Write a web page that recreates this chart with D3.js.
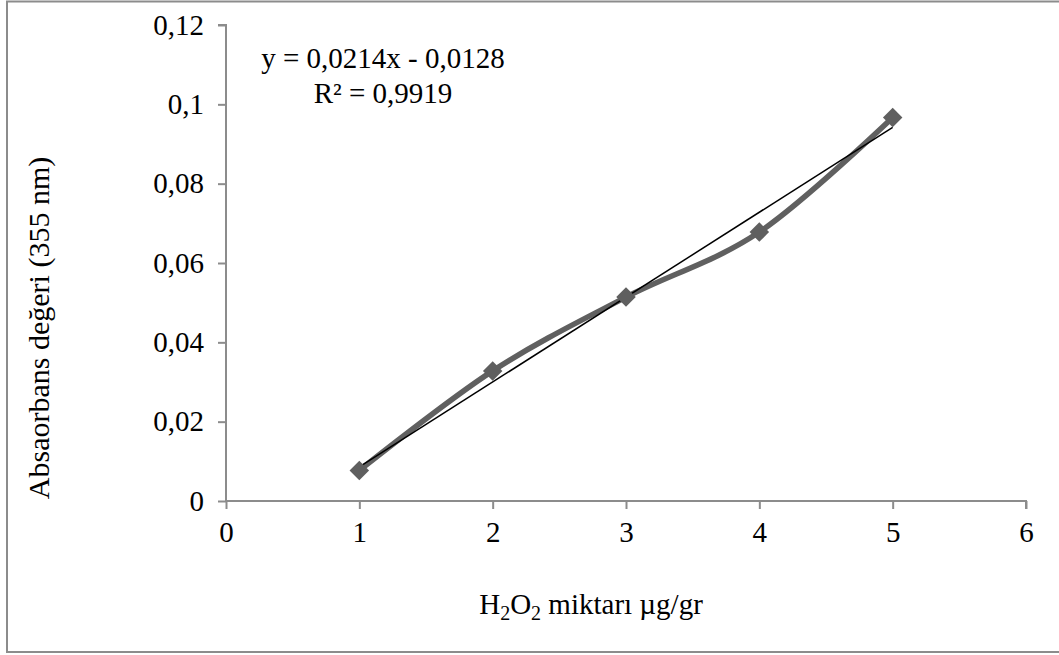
<!DOCTYPE html>
<html><head><meta charset="utf-8">
<script src="https://cdn.jsdelivr.net/npm/d3@7"></script>
<style>body{margin:0;background:#fff}svg{display:block}text{font-family:"Liberation Serif","Times New Roman",serif;fill:#000}</style>
</head><body>
<svg id="c" width="1059" height="655"></svg>
<script>
const xValues = [1, 2, 3, 4, 5];
const yValues = [0.0077, 0.0328, 0.0514, 0.0678, 0.0967];
const xTicks = [0, 1, 2, 3, 4, 5, 6];
const yTicks = [0, 0.02, 0.04, 0.06, 0.08, 0.1, 0.12];
const trendSlope = 0.0214, trendIntercept = -0.0128;
const equationLines = ["y = 0,0214x - 0,0128", "R\u00B2 = 0,9919"];
const yTitle = "Absaorbans değeri (355 nm)";

const svg = d3.select("#c");
const fs = 29;
const x = d3.scaleLinear().domain([0, 6]).range([226, 1026]);
const y = d3.scaleLinear().domain([0, 0.12]).range([501, 25]);
const fmt = v => String(v).replace(".", ",");

// outer border
svg.append("rect").attr("x", 7).attr("y", 1.5).attr("width", 1070).attr("height", 650.5)
  .attr("fill", "none").attr("stroke", "#8c8c8c").attr("stroke-width", 2);

// y axis
const ya = svg.append("g").attr("transform", `translate(${x(0)},0)`)
  .call(d3.axisLeft(y).tickValues(yTicks).tickSize(8).tickPadding(14).tickFormat(fmt));
// x axis
const xa = svg.append("g").attr("transform", `translate(0,${y(0)})`)
  .call(d3.axisBottom(x).tickValues(xTicks).tickSize(8).tickPadding(12).tickFormat(fmt));
[ya, xa].forEach(g => {
  g.select(".domain").attr("stroke", "#8c8c8c").attr("stroke-width", 2);
  g.selectAll(".tick line").attr("stroke", "#8c8c8c").attr("stroke-width", 2);
  g.selectAll(".tick text").attr("font-size", fs).attr("font-family", "Liberation Serif").attr("fill", "#000");
});
ya.select(".domain").attr("d", `M-8,${y(0.12)}H0V${y(0)}`);
xa.select(".domain").attr("d", `M${x(0)},0H${x(6)}V8`);

// smoothed series line
const pts = xValues.map((v, i) => [x(v), y(yValues[i])]);
svg.append("path").attr("d", d3.line().curve(d3.curveCatmullRom.alpha(0))(pts))
  .attr("fill", "none").attr("stroke", "#606060").attr("stroke-width", 5.5).attr("stroke-linejoin", "round");

// trendline
svg.append("line")
  .attr("x1", x(1)).attr("y1", y(trendSlope * 1 + trendIntercept))
  .attr("x2", x(5)).attr("y2", y(trendSlope * 5 + trendIntercept))
  .attr("stroke", "#000").attr("stroke-width", 1.5);

// markers
svg.selectAll(".m").data(pts).enter().append("path")
  .attr("d", d3.symbol().type(d3.symbolSquare).size(190)())
  .attr("transform", d => `translate(${d[0]},${d[1]}) rotate(45)`)
  .attr("fill", "#5f5f5f");

// equation
svg.append("text").attr("x", 383).attr("y", 68).attr("text-anchor", "middle").attr("font-size", fs).text(equationLines[0]);
svg.append("text").attr("x", 383).attr("y", 103).attr("text-anchor", "middle").attr("font-size", fs).text(equationLines[1]);

// y title
svg.append("text").attr("transform", "translate(49,328) rotate(-90)").attr("text-anchor", "middle")
  .attr("font-size", 30).text(yTitle);

// x title with subscripts
const xt = svg.append("text").attr("x", 591).attr("y", 614).attr("text-anchor", "middle").attr("font-size", fs);
xt.append("tspan").text("H");
xt.append("tspan").attr("font-size", 20).attr("dy", 6).text("2");
xt.append("tspan").attr("dy", -6).text("O");
xt.append("tspan").attr("font-size", 20).attr("dy", 6).text("2");
xt.append("tspan").attr("dy", -6).text(" miktarı µg/gr");
</script>
</body></html>
